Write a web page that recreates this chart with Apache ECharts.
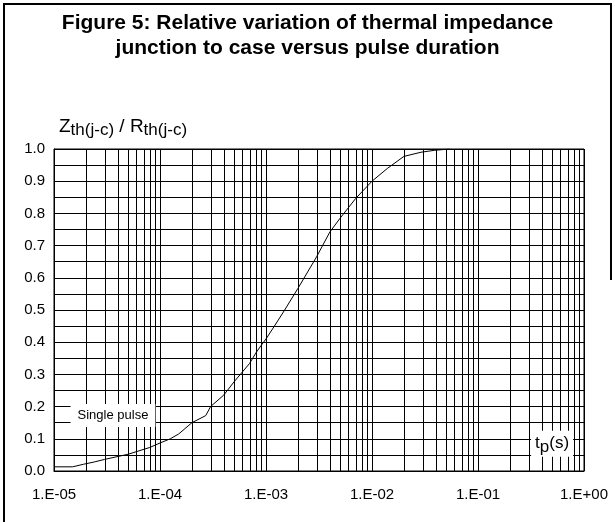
<!DOCTYPE html>
<html>
<head>
<meta charset="utf-8">
<script src="https://cdn.jsdelivr.net/npm/echarts@6/dist/echarts.min.js"></script>
<style>
html,body{margin:0;padding:0;background:#fff;}
#chart{width:615px;height:522px;}
</style>
</head>
<body>
<div id="chart"></div>
<script>
// ---- data ----
const pulseDuration = [1e-5, 1.5e-5, 1.9e-5, 2.4e-5, 3e-5, 5e-5, 8e-5, 1e-4, 1.25e-4, 1.5e-4, 2e-4, 2.7e-4,
  3e-4, 4e-4, 5e-4, 6e-4, 7e-4, 8e-4, 9e-4, 1e-3, 1.2e-3, 1.5e-3, 2e-3, 3e-3, 4e-3, 5e-3, 7e-3,
  1e-2, 1.4e-2, 2e-2, 2.9e-2, 3.9e-2, 5.4e-2];
const zthRatio = [0.013, 0.013, 0.021, 0.028, 0.036, 0.052, 0.073, 0.087, 0.1, 0.115, 0.15, 0.172,
  0.2, 0.236, 0.277, 0.308, 0.334, 0.366, 0.39, 0.41, 0.45, 0.5, 0.567, 0.665, 0.742, 0.785, 0.846,
  0.9, 0.94, 0.977, 0.99, 0.996, 1.0];
const xTickLabels = ['1.E-05', '1.E-04', '1.E-03', '1.E-02', '1.E-01', '1.E+00'];
const yTickLabels = ['0.0','0.1','0.2','0.3','0.4','0.5','0.6','0.7','0.8','0.9','1.0'];
const titleLines = ['Figure 5: Relative variation of thermal impedance', 'junction to case versus pulse duration'];

const FONT = '"Liberation Sans", Arial, sans-serif';

// minor log grid lines (2..9 x each decade)
const minorGrid = [];
for (let e = -5; e < 0; e++) {
  for (let k = 2; k <= 9; k++) minorGrid.push([k * Math.pow(10, e)]);
}

const chart = echarts.init(document.getElementById('chart'), null, { renderer: 'canvas' });
chart.setOption({
  animation: false,
  backgroundColor: '#fff',
  textStyle: { fontFamily: FONT },
  title: {
    text: titleLines.join('\n'),
    left: 'center',
    top: 6,
    textStyle: { fontFamily: FONT, fontSize: 21, fontWeight: 'bold', color: '#000', lineHeight: 25 }
  },
  graphic: [
    { type: 'polyline', silent: true, shape: { points: [[4, 530], [4, 4], [611, 4], [611, 280]] },
      style: { stroke: '#000', lineWidth: 2, fill: null } }
  ],
  grid: { left: 54, right: 31, top: 149, bottom: 51, show: true, borderColor: '#000', borderWidth: 1 },
  xAxis: {
    type: 'log', logBase: 10, min: 1e-5, max: 1,
    axisLine: { show: true, lineStyle: { color: '#000', width: 1 } },
    axisTick: { show: false },
    axisLabel: {
      color: '#000', fontSize: 15, fontFamily: FONT, margin: 16,
      formatter: v => xTickLabels[Math.round(Math.log10(v)) + 5] || ''
    },
    splitLine: { show: true, lineStyle: { color: '#000', width: 1 } }
  },
  yAxis: {
    type: 'value', min: 0, max: 1, interval: 0.1,
    name: '{n|Z}{s|th(j-c)}{n| / R}{s|th(j-c)}',
    nameLocation: 'end', nameGap: 10,
    nameTextStyle: {
      align: 'left', padding: [0, 0, 0, 5],
      rich: {
        n: { fontSize: 19, fontFamily: FONT, color: '#000', verticalAlign: 'middle', lineHeight: 24 },
        s: { fontSize: 17, fontFamily: FONT, color: '#000', verticalAlign: 'bottom', lineHeight: 17 }
      }
    },
    axisLine: { show: true, lineStyle: { color: '#000', width: 1 } },
    axisTick: { show: false },
    minorTick: { show: false, splitNumber: 2 },
    axisLabel: {
      color: '#000', fontSize: 15, fontFamily: FONT, margin: 9,
      formatter: v => yTickLabels[Math.round(v * 10)]
    },
    splitLine: { show: true, lineStyle: { color: '#000', width: 1 } },
    minorSplitLine: { show: true, lineStyle: { color: '#000', width: 1 } }
  },
  series: [
    {
      type: 'custom',
      silent: true,
      z: 1,
      data: minorGrid,
      renderItem: (params, api) => {
        const v = api.value(0);
        const p0 = api.coord([v, 0]);
        const p1 = api.coord([v, 1]);
        const x = Math.round(p0[0]) + 0.5;
        return { type: 'line', shape: { x1: x, y1: p0[1], x2: x, y2: p1[1] },
                 style: { stroke: '#000', lineWidth: 1 } };
      }
    },
    {
      type: 'line',
      data: pulseDuration.map((t, i) => [t, zthRatio[i]]),
      symbol: 'none',
      smooth: false,
      z: 5,
      lineStyle: { color: '#000', width: 1 },
      markPoint: {
        silent: true, symbol: 'rect', symbolSize: 0,
        data: [
          { coord: [3.6e-5, 0.172], value: 'sp',
            label: { show: true, position: 'inside', formatter: 'Single pulse', color: '#000', fontSize: 13,
                     fontFamily: FONT, backgroundColor: '#fff', padding: [5, 7, 5, 7] } },
          { coord: [0.5, 0.085], value: 'tp',
            label: { show: true, position: 'inside', formatter: '{t|t}{p|p}{t|(s)}', backgroundColor: '#fff',
                     padding: [1, 4, 1, 4],
                     rich: { t: { fontSize: 17, fontFamily: FONT, color: '#000', verticalAlign: 'middle', lineHeight: 24 },
                             p: { fontSize: 17, fontFamily: FONT, color: '#000', verticalAlign: 'bottom', lineHeight: 16 } } } }
        ]
      }
    }
  ]
});
</script>
</body>
</html>
